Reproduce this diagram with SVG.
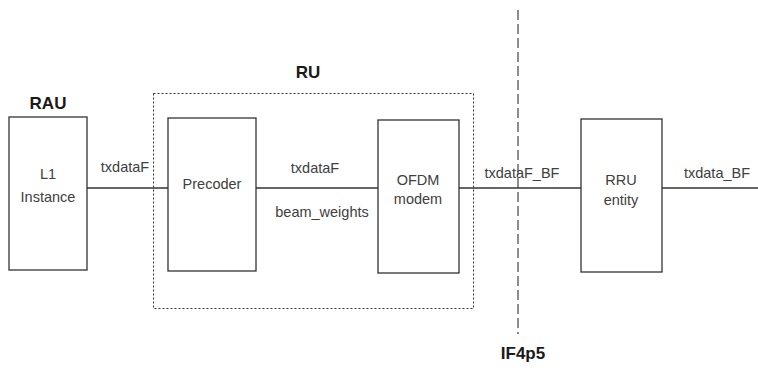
<svg xmlns="http://www.w3.org/2000/svg" width="758" height="374" viewBox="0 0 758 374">
  <style>
    .box { fill: #ffffff; stroke: #333333; stroke-width: 1.3; }
    .group { fill: none; stroke: #333333; stroke-width: 1; stroke-dasharray: 2 2; }
    .link { stroke: #333333; stroke-width: 1.3; fill: none; }
    .split { stroke: #8c8c8c; stroke-width: 2; stroke-dasharray: 10 4; fill: none; }
    .lbl { font-family: "Liberation Sans", Arial, sans-serif; font-size: 14.5px; fill: #404040; text-anchor: middle; }
    .head { font-family: "Liberation Sans", Arial, sans-serif; font-size: 17px; font-weight: bold; fill: #1a1a1a; text-anchor: middle; }
  </style>
  <rect width="758" height="374" fill="#ffffff"/>

  <!-- RU enclosure -->
  <g id="ru">
    <rect class="group" x="153.5" y="93.5" width="320" height="215"/>
    <text class="head" x="308" y="78">RU</text>
  </g>

  <!-- fronthaul split boundary -->
  <g id="if4p5">
    <line class="split" x1="518" y1="10" x2="518" y2="334"/>
    <text class="head" x="523" y="359">IF4p5</text>
  </g>

  <g id="connectors">
    <line class="link" x1="87" y1="188" x2="168" y2="188"/>
    <line class="link" x1="256" y1="188" x2="378" y2="188"/>
    <line class="link" x1="459" y1="188" x2="581" y2="188"/>
    <line class="link" x1="662" y1="188" x2="758" y2="188"/>
    <text class="lbl" x="125" y="172">txdataF</text>
    <text class="lbl" x="315" y="173">txdataF</text>
    <text class="lbl" x="322" y="217">beam_weights</text>
    <text class="lbl" x="522" y="178">txdataF_BF</text>
    <text class="lbl" x="717" y="178">txdata_BF</text>
  </g>

  <g id="rau">
    <text class="head" x="48" y="109">RAU</text>
    <rect class="box" x="9" y="117" width="78" height="153"/>
    <text class="lbl" x="48" y="179">L1</text>
    <text class="lbl" x="48" y="202">Instance</text>
  </g>

  <g id="precoder">
    <rect class="box" x="168" y="118" width="88" height="153"/>
    <text class="lbl" x="212" y="189">Precoder</text>
  </g>

  <g id="ofdm">
    <rect class="box" x="378" y="120" width="81" height="153"/>
    <text class="lbl" x="418" y="185">OFDM</text>
    <text class="lbl" x="418" y="204">modem</text>
  </g>

  <g id="rru">
    <rect class="box" x="581" y="119" width="81" height="153"/>
    <text class="lbl" x="621" y="185">RRU</text>
    <text class="lbl" x="621" y="205">entity</text>
  </g>
</svg>
